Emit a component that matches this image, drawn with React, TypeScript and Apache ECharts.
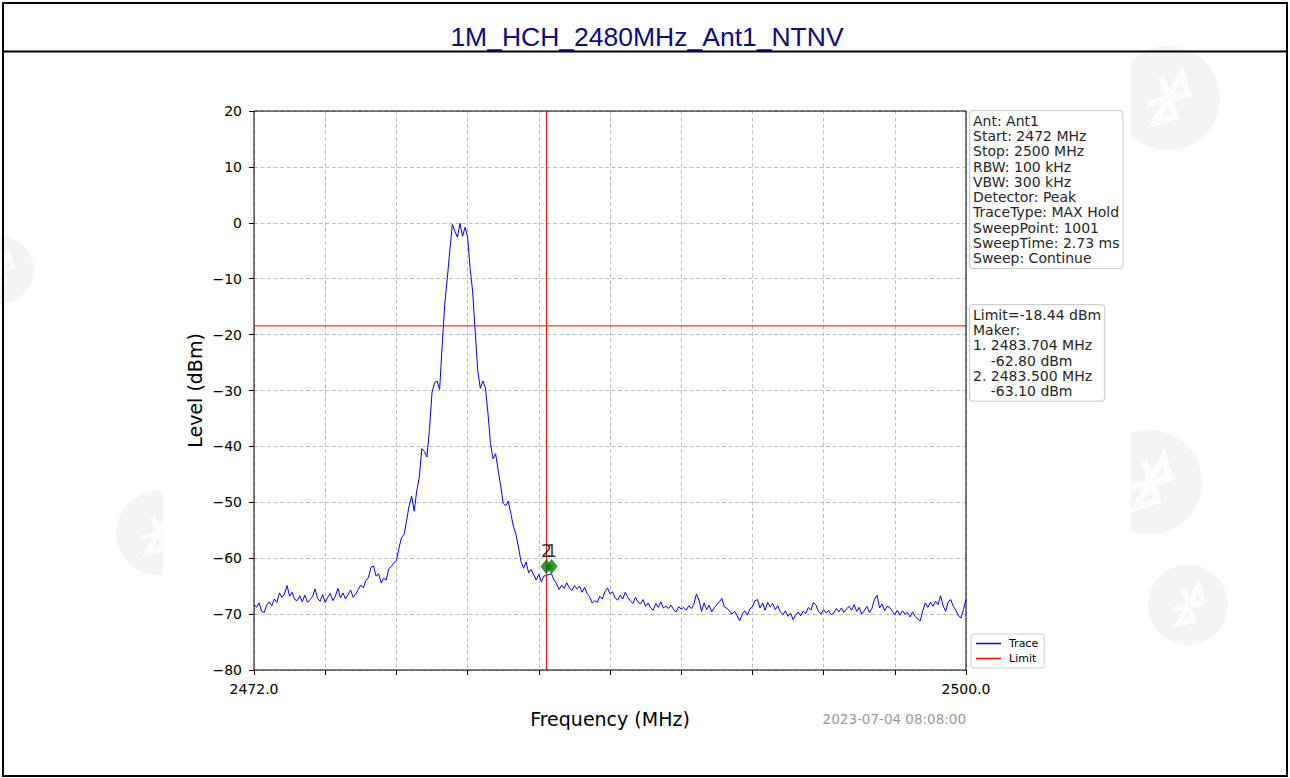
import React, { useEffect, useRef } from "react";
import * as echarts from "echarts";

const chartTitle = "1M_HCH_2480MHz_Ant1_NTNV";
const startFreq = 2472;
const stopFreq = 2500;
const freqStep = 0.1;
const levelMin = -80;
const levelMax = 20;
const levelStep = 10;
const freqDivisions = 10;

// Trace levels (dBm), every 0.1 MHz from 2472.0 to 2500.0
const traceLevel = [
  -68.3, -68.8, -68.0, -69.5, -69.7, -68.4, -67.8, -68.5, -67.3, -67.9,
  -66.2, -67.0, -66.4, -64.9, -66.8, -66.1, -67.4, -67.6, -66.7, -67.8,
  -66.6, -67.9, -67.4, -66.9, -65.5, -67.2, -67.7, -66.5, -67.9, -67.0,
  -66.3, -67.6, -66.8, -65.4, -67.1, -66.2, -67.3, -66.5, -65.7, -67.0,
  -66.4, -65.6, -64.8, -65.3, -64.0, -63.5, -61.6, -61.4, -63.2, -62.8,
  -64.4, -63.6, -63.9, -61.9, -61.5, -60.8, -60.4, -58.2, -56.3, -55.8,
  -53.3, -50.6, -48.9, -51.6, -48.0, -45.5, -40.4, -40.9, -41.9, -37.0,
  -30.4, -28.6, -28.3, -29.8, -22.0, -14.6, -10.0, -5.0, -0.3, -1.5,
  -2.6, -0.1, -2.4, -0.8, -2.5, -8.2, -12.4, -19.5, -26.5, -29.6,
  -28.3, -29.5, -34.0, -39.5, -42.2, -41.3, -44.2, -47.0, -50.2, -50.6,
  -49.8, -52.0, -54.3, -55.7, -58.0, -60.6, -61.8, -60.7, -62.6, -62.0,
  -63.0, -63.9, -62.9, -64.2, -63.2, -63.1, -62.9, -62.8, -63.9, -64.6,
  -65.6, -64.8, -65.4, -64.4, -65.3, -65.8, -64.9, -65.5, -65.0, -66.1,
  -65.2, -66.3, -66.9, -68.0, -67.6, -67.9, -66.8, -67.3, -66.0, -65.3,
  -66.4, -66.0, -67.1, -67.5, -66.6, -67.3, -66.1, -67.0, -67.6, -68.1,
  -67.0, -67.8, -68.2, -67.4, -68.6, -68.0, -68.9, -69.3, -68.1, -68.8,
  -67.8, -68.9, -68.6, -69.0, -68.4, -69.2, -69.6, -68.7, -69.1, -68.8,
  -69.3, -68.5, -69.0, -68.2, -66.4, -67.5, -69.5, -68.0, -69.2, -68.4,
  -69.6, -68.9, -68.3, -67.8, -67.2, -68.7, -69.0, -69.4, -70.0, -69.5,
  -70.3, -71.2, -70.0, -69.4, -70.2, -69.1, -68.7, -67.6, -67.4, -68.9,
  -68.0, -69.3, -67.9, -68.7, -68.1, -69.2, -68.5, -69.6, -70.1, -69.4,
  -70.4, -69.8, -71.0, -70.2, -69.6, -70.3, -69.5, -69.9, -68.8, -69.3,
  -67.9, -68.4, -69.5, -70.0, -69.2, -69.8, -69.4, -70.1, -69.8, -69.0,
  -69.6, -68.9, -69.7, -69.1, -68.6, -69.3, -68.3, -69.5, -68.8, -70.0,
  -69.4, -68.6, -69.7, -69.0, -67.3, -66.6, -68.9, -68.2, -69.4, -68.6,
  -68.8, -69.5, -70.1, -69.3, -70.2, -69.4, -70.0, -69.7, -70.5, -69.6,
  -70.4, -70.9, -71.2, -69.4, -68.0, -68.8, -67.9, -68.6, -67.7, -68.3,
  -66.7, -68.5, -69.5, -67.8, -67.4, -68.6, -69.3, -70.3, -70.7, -69.2,
  -67.4,
];

const limitLevel = -18.44;
const markerNames = ["2", "1"];
const markerFreq = [2483.5, 2483.704];
const markerLevel = [-63.1, -62.8];
const markerDrawnLevel = [-61.5, -61.5];

const infoLines = [
  "Ant: Ant1",
  "Start: 2472 MHz",
  "Stop: 2500 MHz",
  "RBW: 100 kHz",
  "VBW: 300 kHz",
  "Detector: Peak",
  "TraceType: MAX Hold",
  "SweepPoint: 1001",
  "SweepTime: 2.73 ms",
  "Sweep: Continue",
];
const timestamp = "2023-07-04 08:08:00";
const legendNames = ["Trace", "Limit"];

const FONT = '"DejaVu Sans", sans-serif';
const GRID = { left: 254, top: 111, width: 712, height: 559 };

function fmtMinus(v: number): string {
  return v < 0 ? "\u2212" + Math.abs(v) : String(v);
}

function watermark(cx: number, cy: number, r: number) {
  const s = r / 40;
  return {
    type: "group",
    x: cx,
    y: cy,
    rotation: -0.5,
    z: -20,
    silent: true,
    children: [
      { type: "circle", shape: { cx: 0, cy: 0, r }, style: { fill: "#f4f4f4" }, z: -20 },
      {
        type: "polyline",
        shape: {
          points: [
            [-12 * s, -12 * s],
            [12 * s, 10 * s],
            [0, 22 * s],
            [0, -22 * s],
            [12 * s, -10 * s],
            [-12 * s, 12 * s],
          ],
        },
        style: { stroke: "#fcfcfc", lineWidth: 5 * s, fill: null },
        z: -19,
      },
    ],
  };
}

export default function App() {
  const ref = useRef<HTMLDivElement>(null);

  useEffect(() => {
    if (!ref.current) return;
    const chart = echarts.init(ref.current, null, { renderer: "svg" });

    const traceData = traceLevel.map((v, i) => [
      +(startFreq + i * freqStep).toFixed(3),
      v,
    ]);
    const markerText = [
      `Limit=${limitLevel.toFixed(2)} dBm`,
      "Maker:",
      `1. ${markerFreq[1].toFixed(3)} MHz`,
      `\u00a0\u00a0\u00a0\u00a0${markerLevel[1].toFixed(2)} dBm`,
      `2. ${markerFreq[0].toFixed(3)} MHz`,
      `\u00a0\u00a0\u00a0\u00a0${markerLevel[0].toFixed(2)} dBm`,
    ];

    const option: any = {
      animation: false,
      backgroundColor: "#ffffff",
      textStyle: { fontFamily: FONT },
      grid: { ...GRID, containLabel: false },
      legend: {
        data: legendNames.map((n) => ({ name: n, icon: "rect" })),
        orient: "vertical",
        left: 971,
        top: 634,
        itemWidth: 25,
        itemHeight: 1.5,
        itemGap: 4,
        padding: [4, 6, 4, 5],
        borderColor: "#cccccc",
        borderWidth: 1,
        borderRadius: 3,
        backgroundColor: "#ffffff",
        textStyle: { fontSize: 11, fontFamily: FONT, color: "#000", padding: [0, 0, 0, 3] },
        selectedMode: false,
      },
      xAxis: [
        {
          type: "value",
          min: startFreq,
          max: stopFreq,
          interval: 4,
          axisLine: { show: false },
          axisTick: { show: false },
          splitLine: { show: false },
          axisLabel: {
            show: true,
            margin: 12,
            fontSize: 14,
            fontFamily: FONT,
            color: "#000",
            showMinLabel: true,
            showMaxLabel: true,
            formatter: (v: number) =>
              v === startFreq || v === stopFreq ? v.toFixed(1) : "",
          },
        },
        {
          type: "value",
          min: 0,
          max: freqDivisions,
          interval: 1,
          position: "bottom",
          axisLine: { show: false },
          axisLabel: { show: false },
          axisTick: { show: true, length: 5, lineStyle: { color: "#000", width: 1 } },
          splitLine: {
            show: true,
            lineStyle: { color: "#b0b0b0", width: 0.8, type: [4, 2.5] },
          },
        },
      ],
      yAxis: {
        type: "value",
        min: levelMin,
        max: levelMax,
        interval: levelStep,
        axisLine: { show: false },
        axisTick: { show: true, length: 5, lineStyle: { color: "#000", width: 1 } },
        splitLine: {
          show: true,
          lineStyle: { color: "#b0b0b0", width: 0.8, type: [4, 2.5] },
        },
        axisLabel: {
          margin: 12,
          fontSize: 14,
          fontFamily: FONT,
          color: "#000",
          formatter: (v: number) => fmtMinus(v),
        },
      },
      series: [
        {
          name: "Trace",
          type: "line",
          xAxisIndex: 0,
          data: traceData,
          symbol: "none",
          showSymbol: false,
          color: "#0000ff",
          lineStyle: { color: "#0000ff", width: 1 },
          z: 3,
        },
        {
          name: "Limit",
          type: "line",
          xAxisIndex: 0,
          data: [
            [startFreq, limitLevel],
            [stopFreq, limitLevel],
          ],
          symbol: "none",
          color: "#ff0000",
          lineStyle: { color: "#ff0000", width: 1 },
          z: 3,
        },
        {
          name: "MarkerLine",
          type: "line",
          xAxisIndex: 0,
          data: [
            [markerFreq[0], levelMin],
            [markerFreq[0], levelMax],
          ],
          symbol: "none",
          color: "#ff0000",
          lineStyle: { color: "#ff0000", width: 1 },
          z: 3,
        },
        {
          name: "Markers",
          type: "scatter",
          xAxisIndex: 0,
          data: markerNames.map((n, i) => ({
            name: n,
            value: [markerFreq[i], markerDrawnLevel[i]],
          })),
          symbol: "diamond",
          symbolSize: [12, 15],
          itemStyle: { color: "#008000" },
          label: {
            show: true,
            position: "top",
            distance: 0,
            formatter: (p: any) => p.name,
            fontSize: 17,
            fontFamily: FONT,
            color: "#000",
          },
          z: 4,
        },
      ],
      graphic: [
        watermark(0, 270, 34),
        watermark(158, 533, 42),
        watermark(1168, 98, 52),
        watermark(1150, 482, 52),
        watermark(1188, 605, 40),
        {
          type: "rect",
          z: -10,
          silent: true,
          shape: { x: 163, y: 53, width: 968, height: 725 },
          style: { fill: "#ffffff" },
        },
        {
          type: "rect",
          z: 10,
          silent: true,
          shape: { x: 3, y: 3, width: 1284, height: 773 },
          style: { fill: null, stroke: "#000", lineWidth: 2 },
        },
        {
          type: "line",
          z: 10,
          silent: true,
          shape: { x1: 3, y1: 51.5, x2: 1287, y2: 51.5 },
          style: { stroke: "#000", lineWidth: 2 },
        },
        {
          type: "text",
          z: 10,
          x: 647,
          y: 37,
          style: {
            text: chartTitle,
            font: '26.5px "Liberation Sans", Arial, sans-serif',
            fill: "#0c0c80",
            align: "center",
            verticalAlign: "middle",
          },
        },
        {
          type: "rect",
          z: 5,
          silent: true,
          shape: { x: GRID.left, y: GRID.top, width: GRID.width, height: GRID.height },
          style: { fill: null, stroke: "#000", lineWidth: 1 },
        },
        {
          type: "text",
          z: 10,
          x: 195,
          y: GRID.top + GRID.height / 2,
          rotation: Math.PI / 2,
          style: {
            text: "Level (dBm)",
            font: `19px ${FONT}`,
            fill: "#000",
            align: "center",
            verticalAlign: "middle",
          },
        },
        {
          type: "text",
          z: 10,
          x: GRID.left + GRID.width / 2,
          y: 719,
          style: {
            text: "Frequency (MHz)",
            font: `19px ${FONT}`,
            fill: "#000",
            align: "center",
            verticalAlign: "middle",
          },
        },
        {
          type: "text",
          z: 10,
          x: GRID.left + GRID.width,
          y: 719,
          style: {
            text: timestamp,
            font: `13.5px ${FONT}`,
            fill: "#999999",
            align: "right",
            verticalAlign: "middle",
          },
        },
        {
          type: "text",
          z: 10,
          x: 970,
          y: 111,
          style: {
            text: infoLines.join("\n"),
            font: `14px ${FONT}`,
            fill: "#262626",
            lineHeight: 15.3,
            backgroundColor: "rgba(255,255,255,0.85)",
            borderColor: "#cccccc",
            borderWidth: 1,
            borderRadius: 3,
            padding: [2, 3, 2, 3],
          },
        },
        {
          type: "text",
          z: 10,
          x: 970,
          y: 305,
          style: {
            text: markerText.join("\n"),
            font: `14px ${FONT}`,
            fill: "#262626",
            lineHeight: 15.3,
            backgroundColor: "rgba(255,255,255,0.85)",
            borderColor: "#cccccc",
            borderWidth: 1,
            borderRadius: 3,
            padding: [2, 3, 2, 3],
          },
        },
      ],
    };

    chart.setOption(option);
    return () => chart.dispose();
  }, []);

  return (
    <div
      ref={ref}
      style={{ position: "absolute", left: 0, top: 0, width: 1290, height: 778 }}
    />
  );
}
